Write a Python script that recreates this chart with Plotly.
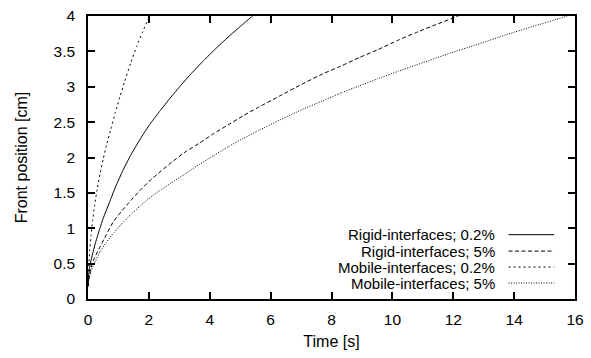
import plotly.graph_objects as go

# ---- data ----
rigid_02_t = [0, 0.02, 0.05, 0.1, 0.17, 0.25, 0.39, 0.5, 0.7, 0.9, 1.15, 1.4, 1.7, 2.0,
              2.35, 2.7, 3.05, 3.4, 3.8, 4.2, 4.6, 5.0, 5.4, 5.5]
rigid_02_y = [0.18, 0.33, 0.43, 0.55, 0.67, 0.8, 1.0, 1.14, 1.36, 1.58, 1.82, 2.03, 2.25, 2.45,
              2.65, 2.84, 3.02, 3.19, 3.37, 3.54, 3.7, 3.85, 4.0, 4.04]

rigid_5_t = [0, 0.02, 0.05, 0.1, 0.2, 0.4, 0.6, 0.83, 1.1, 1.4, 1.7, 2.0, 2.4, 2.8, 3.2,
             3.65, 4.1, 4.6, 5.1, 5.6, 6.3, 7.0, 7.7, 8.3, 8.9, 9.5, 10.2, 10.8, 11.5,
             12.1, 12.3]
rigid_5_y = [0.18, 0.27, 0.34, 0.44, 0.57, 0.74, 0.91, 1.09, 1.24, 1.39, 1.53, 1.66, 1.81,
             1.95, 2.08, 2.2, 2.33, 2.46, 2.59, 2.71, 2.87, 3.03, 3.18, 3.29, 3.41, 3.52,
             3.66, 3.77, 3.89, 3.99, 4.03]

mobile_02_t = [0, 0.01, 0.03, 0.06, 0.1, 0.15, 0.22, 0.3, 0.4, 0.5, 0.61, 0.75, 0.9, 1.05,
               1.2, 1.4, 1.6, 1.8, 2.0, 2.1]
mobile_02_y = [0.18, 0.33, 0.5, 0.7, 0.9, 1.1, 1.33, 1.55, 1.78, 1.98, 2.18, 2.4, 2.64,
               2.86, 3.07, 3.33, 3.57, 3.78, 3.98, 4.08]

mobile_5_t = [0, 0.02, 0.05, 0.1, 0.2, 0.4, 0.6, 0.85, 1.1, 1.4, 1.7, 2.0, 2.35, 2.7, 3.2,
              3.65, 4.1, 4.6, 5.1, 5.6, 6.3, 7.0, 7.7, 8.3, 8.9, 9.5, 10.2, 11.0, 11.8,
              12.8, 13.7, 14.6, 15.6, 15.8]
mobile_5_y = [0.18, 0.25, 0.31, 0.39, 0.5, 0.67, 0.8, 0.94, 1.06, 1.19, 1.31, 1.42, 1.53,
              1.63, 1.77, 1.9, 2.02, 2.15, 2.27, 2.38, 2.53, 2.67, 2.8, 2.91, 3.01, 3.11,
              3.22, 3.34, 3.46, 3.6, 3.73, 3.85, 3.98, 4.01]

series_names = ["Rigid-interfaces; 0.2%", "Rigid-interfaces; 5%",
                "Mobile-interfaces; 0.2%", "Mobile-interfaces; 5%"]
series_t = [rigid_02_t, rigid_5_t, mobile_02_t, mobile_5_t]
series_y = [rigid_02_y, rigid_5_y, mobile_02_y, mobile_5_y]

x_ticks = [0, 2, 4, 6, 8, 10, 12, 14, 16]
y_ticks = [0, 0.5, 1, 1.5, 2, 2.5, 3, 3.5, 4]

# ---- styling ----
dashes = ["solid", "4px,2.5px", "2px,3px", "1px,1.5px"]
FONT = "Liberation Sans, Arial, sans-serif"

fig = go.Figure()
for name, t, y, d in zip(series_names, series_t, series_y, dashes):
    fig.add_trace(go.Scatter(x=t, y=y, mode="lines", name=name,
                             line=dict(color="black", width=1, dash=d,
                                       shape="spline", smoothing=0.5),
                             showlegend=False))

# manual gnuplot-style legend (text left, sample right)
L, R, T, B = 88, 579, 7, 299.5
W, H = R - L, B - T
row_px = [233, 250, 266.5, 283]
for name, d, ypx in zip(series_names, dashes, row_px):
    yp = (B - ypx) / H
    fig.add_annotation(x=(500 - L) / W, y=yp, xref="paper", yref="paper",
                       text=name, showarrow=False, xanchor="right", yanchor="middle",
                       font=dict(family=FONT, size=15, color="black"))
    fig.add_shape(type="line", xref="paper", yref="paper",
                  x0=(512 - L) / W, x1=(558 - L) / W, y0=yp, y1=yp,
                  line=dict(color="black", width=1, dash=d))

axis_common = dict(showgrid=False, zeroline=False, showline=True, linecolor="black",
                   linewidth=1.5, mirror="ticks", ticks="inside", ticklen=7,
                   tickwidth=1.5, tickcolor="black",
                   tickfont=dict(family=FONT, size=15.5, color="black"))

fig.update_xaxes(range=[0, 16], tickvals=x_ticks, ticktext=[str(v) for v in x_ticks],
                 title=dict(text="Time [s]", standoff=8,
                            font=dict(family=FONT, size=16, color="black")),
                 ticklabelstandoff=6, **axis_common)
fig.update_yaxes(range=[0, 4], tickvals=y_ticks, ticktext=[f"{v:g}" for v in y_ticks],
                 title=dict(text="Front position [cm]", standoff=22,
                            font=dict(family=FONT, size=16, color="black")),
                 ticklabelstandoff=8, **axis_common)

fig.update_layout(width=591, height=358, margin=dict(l=L, r=591 - R, t=T, b=358 - B),
                  plot_bgcolor="white", paper_bgcolor="white",
                  font=dict(family=FONT, color="black"))

fig.write_html("out.html")
